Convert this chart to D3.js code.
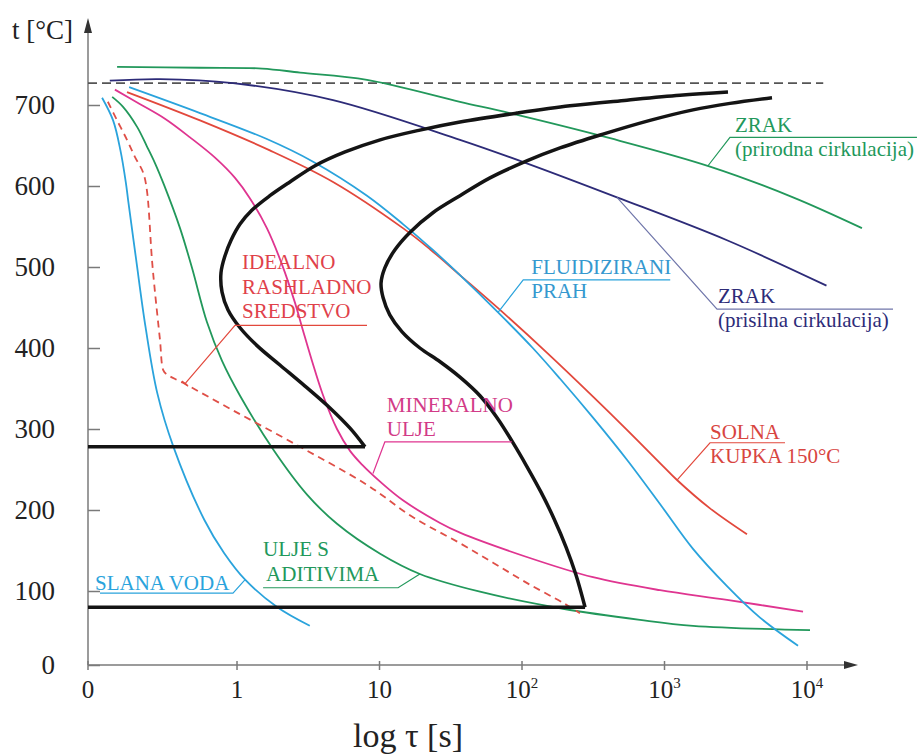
<!DOCTYPE html>
<html><head><meta charset="utf-8">
<script src="https://cdn.jsdelivr.net/npm/d3@7"></script>
<style>
body{margin:0;background:#fff}
svg{display:block}
text{font-family:"Liberation Serif","Times New Roman",serif}
</style>
</head><body>
<svg id="c" width="920" height="755"></svg>
<script>
// ---------------- data (tau in s, t in °C) ----------------
const yTicks = [0, 100, 200, 300, 400, 500, 600, 700];
const tauOrigin = 0.09;              // where the axis starts (labelled "0")
const xTicks = [tauOrigin, 1, 10, 100, 1000, 10000];
const xTickLabels = [["0"], ["1"], ["10"], ["10", "2"], ["10", "3"], ["10", "4"]];
const a1Temp = 727;
const a1End = 13000;

const zrakPrirodna = [[0.144,747],[0.55,746],[1.5,745],[2.77,740],[8.17,731],[36.7,704],[82.3,690],[415,659],[2086,624],[7980,586],[24300,548]];
const zrakPrisilna = [[0.128,730],[0.288,732],[0.937,727],[4.72,706],[36.7,657],[108,628],[464,586],[2746,533],[13700,477]];
const slanaVoda = [[0.113,709],[0.135,681],[0.152,644],[0.166,604],[0.172,583],[0.196,509],[0.228,426],[0.276,344],[0.358,278],[0.589,188],[0.811,147],[1.14,114],[1.92,78],[3.24,53]];
const idealno = [[0.124,704],[0.144,681],[0.169,657],[0.192,636],[0.219,617],[0.233,595],[0.253,509],[0.266,468],[0.288,410],[0.303,373],[0.318,368],[0.418,357],[0.937,323],[2.77,278],[8.17,231],[17.2,191],[36.7,159],[62.6,135],[108,110],[194,84],[255,70]];
const uljeAditivi = [[0.133,710],[0.158,698],[0.199,673],[0.233,649],[0.266,628],[0.308,601],[0.398,548],[0.483,499],[0.615,432],[0.785,384],[1.05,341],[1.79,275],[3.10,219],[5.03,183],[10.1,146],[19.2,121],[50.7,99],[194,76],[673,61],[1585,53],[10500,47]];
const mineralno = [[0.139,719],[0.209,701],[0.312,683],[0.468,660],[0.701,635],[0.968,610],[1.23,585],[1.62,548],[2.07,503],[2.55,456],[2.90,422],[3.36,384],[4.01,342],[5.03,300],[6.21,273],[7.54,256],[10.1,235],[14.6,212],[26.6,184],[36.7,172],[108,142],[315,117],[930,101],[2746,88],[9380,72]];
const solnaKupka = [[0.169,716],[0.55,681],[1.70,644],[4.72,605],[14.6,548],[22.6,522],[36.7,490],[70.1,447],[150,394],[315,340],[545,299],[930,258],[1224,237],[2086,202],[3790,170]];
const fluidPrah = [[0.175,722],[0.55,690],[1.62,658],[3.42,630],[8.17,588],[14.6,553],[23.7,521],[36.7,490],[67.9,444],[119,400],[185,362],[315,314],[545,262],[960,204],[1585,152],[2746,106],[4680,64],[8650,26]];
const psStart = [[2790,716],[1285,712],[545,706],[217,699],[92.2,690],[36.7,679],[19.2,669],[10.1,657],[5.73,642],[3.53,625],[2.35,605],[1.70,588],[1.27,570],[1.05,553],[0.908,533],[0.824,514],[0.772,493],[0.785,469],[0.865,447],[1.05,425],[1.40,402],[2.00,379],[3.00,353],[4.49,326],[6.21,301],[7.91,278]];
const psFinish = [[5680,709],[2880,702],[1585,694],[791,681],[370,664],[185,647],[108,631],[59.6,610],[36.7,588],[23.7,567],[16.4,543],[12.8,521],[10.9,499],[10.25,480],[10.6,462],[11.8,441],[14.4,420],[19.2,400],[26.6,383],[36.7,364],[50.7,341],[66.8,314],[85.1,285],[108,254],[136,222],[168,189],[204,154],[239,120],[277,78]];
const msTemp = 278;   // horizontal line of first curve
const mfTemp = 78;    // horizontal line of second curve

// annotation texts
const labelZrakP = ["ZRAK", "(prirodna cirkulacija)"];
const labelZrakF = ["ZRAK", "(prisilna cirkulacija)"];
const labelFluid = ["FLUIDIZIRANI", "PRAH"];
const labelSolna = ["SOLNA", "KUPKA 150°C"];
const labelMineral = ["MINERALNO", "ULJE"];
const labelIdeal = ["IDEALNO", "RASHLADNO", "SREDSTVO"];
const labelUlje = ["ULJE S", "ADITIVIMA"];
const labelSlana = ["SLANA VODA"];

// ---------------- drawing ----------------
const svg = d3.select("#c");
const x = d3.scaleLog().domain([tauOrigin, 10000]).range([88, 807]);
const y = d3.scaleLinear().domain([0, 100, 700]).range([665, 591, 105]);
const X0 = x(tauOrigin), Y0 = y(0);
const axisCol = "#7a7a7a";

const C = {
  green: "#22985b", navy: "#2d2b78", blue: "#2aa3dc", red: "#e2483c",
  dash: "#df4f47", mag: "#df3590", black: "#141414"
};

// axes lines + arrows
svg.append("line").attr("x1", X0).attr("x2", X0).attr("y1", Y0).attr("y2", 30)
  .attr("stroke", axisCol).attr("stroke-width", 1.5);
svg.append("path").attr("d", `M${X0},18 L${X0-4},33 L${X0+4},33 Z`).attr("fill", "#333");
svg.append("line").attr("x1", X0).attr("x2", 848).attr("y1", Y0).attr("y2", Y0)
  .attr("stroke", axisCol).attr("stroke-width", 1.5);
svg.append("path").attr("d", `M858,${Y0} L844,${Y0-4} L844,${Y0+4} Z`).attr("fill", "#333");

// y ticks
const gy = svg.append("g").attr("transform", `translate(${X0},0)`)
  .call(d3.axisLeft(y).tickValues(yTicks).tickSize(-12).tickPadding(33).tickFormat(d => d));
gy.select(".domain").remove();
gy.selectAll("line").attr("stroke", axisCol).attr("stroke-width", 1.5);
gy.selectAll("text").attr("font-size", 27).attr("fill", "#222")
  .style("font-family", '"Liberation Serif",serif');

// x ticks
const gx = svg.append("g");
gx.selectAll("line").data(xTicks).join("line")
  .attr("x1", d => x(d)).attr("x2", d => x(d)).attr("y1", Y0 - 4).attr("y2", Y0 + 5)
  .attr("stroke", axisCol).attr("stroke-width", 1.5);
const xt = gx.selectAll("text").data(xTicks).join("text")
  .attr("x", d => x(d)).attr("y", 698).attr("text-anchor", "middle")
  .attr("font-size", 25).attr("fill", "#222");
xt.each(function(d, i) {
  const lab = xTickLabels[i];
  const t = d3.select(this);
  t.append("tspan").text(lab[0]);
  if (lab[1]) t.append("tspan").attr("font-size", 15).attr("dy", -10).text(lab[1]);
});

// axis titles
svg.append("text").attr("x", 12).attr("y", 39).attr("font-size", 27).attr("fill", "#222").text("t [°C]");
svg.append("text").attr("x", 353).attr("y", 747).attr("font-size", 34).attr("fill", "#222").text("log τ [s]");

// A1 dashed
svg.append("line").attr("x1", X0).attr("x2", x(a1End)).attr("y1", y(a1Temp)).attr("y2", y(a1Temp))
  .attr("stroke", "#555").attr("stroke-width", 1.6).attr("stroke-dasharray", "9,5");

const line = d3.line().x(d => x(d[0])).y(d => y(d[1])).curve(d3.curveCatmullRom.alpha(0.5));

const series = [
  {d: zrakPrirodna, c: C.green, w: 1.8},
  {d: zrakPrisilna, c: C.navy, w: 1.8},
  {d: slanaVoda, c: C.blue, w: 1.8},
  {d: uljeAditivi, c: C.green, w: 1.8},
  {d: mineralno, c: C.mag, w: 1.8},
  {d: solnaKupka, c: C.red, w: 1.8},
  {d: fluidPrah, c: C.blue, w: 1.8},
  {d: idealno, c: C.dash, w: 1.8, dash: "7,5"},
];
svg.append("g").selectAll("path").data(series).join("path")
  .attr("d", s => line(s.d)).attr("fill", "none")
  .attr("stroke", s => s.c).attr("stroke-width", s => s.w)
  .attr("stroke-dasharray", s => s.dash || null);

// black transformation curves
const gb = svg.append("g");
[psStart, psFinish].forEach(d => {
  gb.append("path").attr("d", line(d)).attr("fill", "none").attr("stroke", C.black)
    .attr("stroke-width", 3.5).attr("stroke-linejoin", "miter");
});
gb.append("path").attr("d", d3.line()([[X0, y(msTemp)], [x(psStart[psStart.length-1][0]), y(msTemp)]]))
  .attr("stroke", C.black).attr("stroke-width", 3.5).attr("fill", "none");
gb.append("path").attr("d", d3.line()([[X0, y(mfTemp)], [x(psFinish[psFinish.length-1][0]), y(mfTemp)]]))
  .attr("stroke", C.black).attr("stroke-width", 3.5).attr("fill", "none");

// annotations: anchor on curve, elbow (data), underline length (px), text offsets
const notes = [
  {lines: labelZrakP, anchor: [2020,625], elbow: [2880,660], len: 187, c: C.green, lc: C.green, tx: 5, ty: [-5, 19]},
  {lines: labelZrakF, anchor: [464,586], elbow: [2336,448], len: 176, c: C.navy, lc: "#7076aa", tx: 1, ty: [-6, 18]},
  {lines: labelFluid, anchor: [67.9,444], elbow: [102,484], len: 147, c: "#3598cf", lc: C.blue, tx: 8, ty: [-6, 18]},
  {lines: labelSolna, anchor: [1224,237], elbow: [2086,283], len: 75, c: "#d8453f", lc: C.red, tx: 0, ty: [-4, 20]},
  {lines: labelMineral, anchor: [9.0,245], elbow: [10.9,284], len: 127, c: "#d23b88", lc: C.mag, tx: 2, ty: [-30, -6]},
  {lines: labelIdeal, anchor: [0.432,356], elbow: [0.968,428], len: 132, c: "#e0414a", lc: C.red, tx: 7, ty: [-56, -31, -7], tick: true},
  {lines: labelUlje, anchor: [19.2,121], elbow: [13.5,104], len: -135, c: C.green, lc: C.green, tx: -135, ty: [-32, -7], tx2: 3},
  {lines: labelSlana, anchor: [1.14,114], elbow: [0.937,97], len: -133, c: C.blue, lc: C.blue, tx: -138, ty: [-3]},
];
const ga = svg.append("g");
notes.forEach(n => {
  const ax = x(n.anchor[0]), ay = y(n.anchor[1]);
  const ex = x(n.elbow[0]), ey = y(n.elbow[1]);
  ga.append("path").attr("d", `M${ax},${ay} L${ex},${ey} L${ex + n.len},${ey}`)
    .attr("fill", "none").attr("stroke", n.lc).attr("stroke-width", 1.2);
  if (n.tick) {
    const vx = ex - ax, vy = ey - ay, L = Math.hypot(vx, vy);
    const px = -vy / L * 4, py = vx / L * 4;
    ga.append("line").attr("x1", ax - px).attr("y1", ay - py).attr("x2", ax + px).attr("y2", ay + py)
      .attr("stroke", n.lc).attr("stroke-width", 1.2);
  }
  n.lines.forEach((s, i) => {
    ga.append("text").attr("x", ex + n.tx + (i === 1 && n.tx2 ? n.tx2 : 0))
      .attr("y", ey + n.ty[i]).attr("font-size", 21).attr("fill", n.c).text(s);
  });
});
</script>
</body></html>
